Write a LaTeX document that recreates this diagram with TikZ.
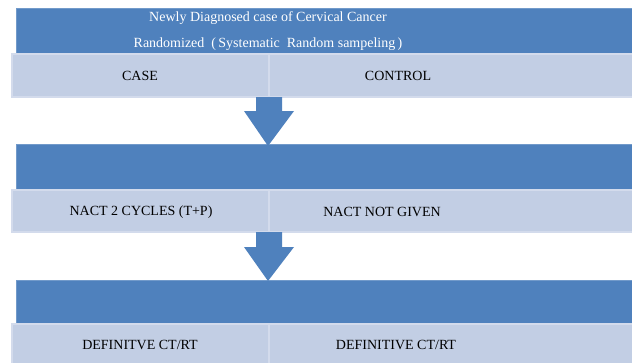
\documentclass[tikz,border=0pt]{standalone}
\usepackage{fontspec}
\setmainfont{Liberation Serif}
\usetikzlibrary{calc}
\definecolor{darkblue}{HTML}{4F81BD}
\definecolor{lightblue}{HTML}{C2CEE4}
\definecolor{lightedge}{HTML}{D3DBEC}
\begin{document}
\begin{tikzpicture}[x=1pt,y=-1pt,
  bluebar/.style={draw=darkblue!80!white, line width=0.8pt, fill=darkblue, anchor=north west, inner sep=0pt, outer sep=0pt},
  cell/.style={draw=lightedge, line width=1.5pt, fill=lightblue, anchor=north west, inner sep=0pt, outer sep=0pt},
  celltext/.style={font=\fontsize{14}{16}\selectfont, text=black, inner sep=0pt},
  arrowshape/.style={fill=darkblue, draw=none}]
\useasboundingbox (0,0) rectangle (632,362);
\fill[white] (0,0) rectangle (632,362);
% row 1
\node[bluebar, minimum width=617pt, minimum height=46pt] (b1) at (16,8) {};
\node[text=white, align=center, font=\fontsize{14}{26}\selectfont, inner sep=0pt] (t1) at (268,31) {Newly Diagnosed case of Cervical Cancer\\Randomized\ \ (\,Systematic\ \ Random sampeling\,)};
\node[cell, minimum width=257pt, minimum height=43pt] (c1l) at (12,54) {};
\node[cell, minimum width=364pt, minimum height=43pt] (c1r) at (269,54) {};
\node[celltext] (c1lt) at (140,76) {CASE};
\node[celltext] (c1rt) at (398,76) {CONTROL};
% row 2
\node[bluebar, minimum width=617pt, minimum height=46pt] (b2) at (16,144) {};
\node[cell, minimum width=257pt, minimum height=42pt] (c2l) at (12,190) {};
\node[cell, minimum width=364pt, minimum height=42pt] (c2r) at (269,190) {};
\node[celltext] (c2lt) at (141,212) {NACT 2 CYCLES (T+P)};
\node[celltext] (c2rt) at (382,212) {NACT NOT GIVEN};
% row 3
\node[bluebar, minimum width=617pt, minimum height=44pt] (b3) at (16,280) {};
\node[cell, minimum width=257pt, minimum height=42pt] (c3l) at (12,324) {};
\node[cell, minimum width=364pt, minimum height=42pt] (c3r) at (269,324) {};
\node[celltext] (c3lt) at (140,345) {DEFINITVE CT/RT};
\node[celltext] (c3rt) at (396,345) {DEFINITIVE CT/RT};
% arrows
\fill[arrowshape] ($(c1l.south east)+(-13,0)$) -- ($(c1l.south east)+(13,0)$) -- ($(c1l.south east)+(13,14)$) -- ($(c1l.south east)+(25,14)$) -- ($(b2.north west)+(252,2)$) -- ($(c1l.south east)+(-25,14)$) -- ($(c1l.south east)+(-13,14)$) -- cycle;
\fill[arrowshape] ($(c2l.south east)+(-13,0)$) -- ($(c2l.south east)+(13,0)$) -- ($(c2l.south east)+(13,15)$) -- ($(c2l.south east)+(25,15)$) -- ($(b3.north west)+(252,1)$) -- ($(c2l.south east)+(-25,15)$) -- ($(c2l.south east)+(-13,15)$) -- cycle;
\end{tikzpicture}
\end{document}
